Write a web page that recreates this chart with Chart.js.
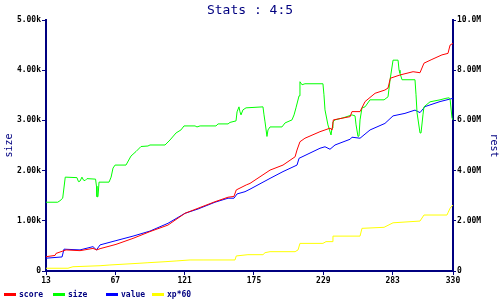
<!DOCTYPE html>
<html>
<head>
<meta charset="utf-8">
<script src="https://cdn.jsdelivr.net/npm/chart.js@4/dist/chart.umd.min.js"></script>
<style>
  html, body { margin: 0; padding: 0; background: #fff; }
  #wrap { width: 500px; height: 300px; }
</style>
</head>
<body>
<div id="wrap"><canvas id="c"></canvas></div>
<script>
// values

const xTicks = [13, 67, 121, 175, 229, 283, 330];

// size (left axis)
const sizeX = [13,22.1,23.9,26,28,37.1,38.3,39.5,41,42.2,43.4,44.9,51.6,52.3,52.7,53.5,54.3,62.1,63.7,65.2,66.8,75.3,79.2,83.1,87,92.4,94,105.7,109.6,114.3,118.1,120.5,129.1,130.6,133,145.4,147,154.8,156.3,161,161.8,163.3,164.1,164.9,166.4,168.8,182,182.8,183.6,185.1,185.9,187.5,196.8,199.2,204.6,206.2,207.7,210.1,210.8,212.4,214.7,228.7,229.5,230.3,232.6,235,235.8,236.5,238.1,244.3,251.3,253.7,254.5,256,256.8,257.6,259.1,261.5,265.4,276.3,279.4,281,283.3,287.2,288,288.7,290.3,300.4,301.2,302,304.3,305.1,306.6,307.4,312.1,319.9,324.5,326.9,327.7,329.2,330];
const sizeY = [1370,1370,1400,1450,1870,1860,1780,1790,1870,1810,1800,1840,1830,1690,1480,1480,1770,1770,1870,2050,2110,2110,2290,2380,2480,2490,2510,2510,2610,2750,2810,2890,2890,2870,2890,2890,2930,2930,2960,2990,3170,3270,3170,3110,3210,3250,3270,3110,2970,2680,2810,2870,2870,2950,3010,3110,3250,3490,3770,3710,3730,3730,3510,3210,2910,2710,2850,2970,3010,3050,3110,3090,2910,2680,2690,3010,3250,3270,3410,3410,3470,3810,4200,4200,4000,3940,3810,3810,3510,3150,2750,2750,3110,3270,3370,3410,3440,3450,3430,3050,3010];

// score (right axis)
const scoreX = [13,20,20.8,28.6,39.5,49.6,52.5,55.1,67.5,80.8,94,108,121.3,131.4,144.6,154.8,159.4,161.2,169,171.9,187.5,197.6,207,208.5,210.8,214.7,226.4,234.2,235.8,236.8,249.9,251.3,257.6,261.5,269.3,277,279.4,281.2,288.7,298.9,304.3,307.4,313.6,321.4,326.1,327.7,330];
const scoreY = [570000,620000,700000,840000,810000,900000,840000,890000,1060000,1300000,1570000,1830000,2300000,2500000,2760000,2940000,2970000,3230000,3430000,3490000,4020000,4220000,4550000,4820000,5150000,5290000,5550000,5690000,5620000,6020000,6150000,6350000,6350000,6750000,7080000,7210000,7290000,7680000,7810000,7940000,7900000,8280000,8430000,8610000,8670000,9000000,9070000];

// value (right axis)
const valueX = [13,25.5,27,39.5,49.6,52.3,55.1,67.5,80.8,94,108,121.3,131.4,144.6,154.8,159.4,161.8,168,171.9,187.5,197.6,208.5,210.1,226.4,230.3,234.2,238.1,249.9,251.3,257.6,265.4,277,283.3,292.6,300.4,304.3,308.2,319.9,330];
const valueY = [510000,560000,870000,840000,970000,840000,1040000,1210000,1390000,1590000,1900000,2300000,2470000,2740000,2900000,2900000,3070000,3160000,3260000,3690000,3960000,4220000,4490000,4890000,4950000,4850000,5020000,5250000,5330000,5290000,5620000,5880000,6180000,6280000,6410000,6310000,6550000,6750000,6880000];

// xp*60 (right axis)
const xpX = [13,30.1,34,55.1,62.8,86.2,92.4,105.7,114.3,125.2,135.3,160.2,161.2,170.3,182,183.6,187.5,207,209.3,210.8,228.7,231.1,235.8,236.5,257.6,259.1,276.3,283.3,304.3,307.4,325.3,326.1,327.7,330];
const xpY = [110000,110000,170000,210000,240000,310000,330000,370000,400000,440000,440000,440000,600000,650000,650000,730000,770000,770000,840000,1100000,1100000,1170000,1170000,1390000,1390000,1700000,1740000,1920000,1990000,2230000,2230000,2320000,2500000,2630000];

const NAVY = '#000080';
const FONT = 'DejaVu Sans Mono';

function pts(xs, ys) {
  return xs.map((x, i) => ({ x: x, y: ys[i] }));
}

function line(label, color, xs, ys, axis) {
  return {
    label: label,
    data: pts(xs, ys),
    borderColor: color,
    backgroundColor: color,
    borderWidth: 1,
    pointRadius: 0,
    tension: 0,
    yAxisID: axis
  };
}

// legend drawn by hand so it sits where the reference has it
const legendPlugin = {
  id: 'bottomLegend',
  afterDraw(chart) {
    const ctx = chart.ctx;
    const slots = [4, 53, 106, 152];
    ctx.save();
    ctx.font = 'bold 8px ' + FONT;
    ctx.textBaseline = 'middle';
    chart.data.datasets.forEach((ds, i) => {
      const x = slots[i];
      ctx.fillStyle = ds.borderColor;
      ctx.fillRect(x, 293, 12, 3);
      ctx.fillStyle = NAVY;
      ctx.fillText(ds.label, x + 15, 295);
    });
    ctx.restore();
  }
};

new Chart(document.getElementById('c'), {
  type: 'line',
  data: {
    datasets: [
      line('score', '#ff0000', scoreX, scoreY, 'y1'),
      line('size', '#00ff00', sizeX, sizeY, 'y'),
      line('value', '#0000ff', valueX, valueY, 'y1'),
      line('xp*60', '#ffff00', xpX, xpY, 'y1')
    ]
  },
  plugins: [legendPlugin],
  options: {
    responsive: true,
    maintainAspectRatio: false,
    animation: false,
    layout: { padding: 0 },
    plugins: {
      legend: { display: false },
      tooltip: { enabled: false },
      title: {
        display: true,
        text: 'Stats : 4:5',
        color: NAVY,
        font: { family: FONT, size: 13, weight: 'normal' },
        padding: { top: 3, bottom: 1.4 }
      }
    },
    scales: {
      x: {
        type: 'linear',
        min: 13,
        max: 330,
        afterBuildTicks: s => { s.ticks = xTicks.map(v => ({ value: v })); },
        afterFit: s => { s.height = 29; },
        grid: { drawOnChartArea: false, color: NAVY, tickLength: 4 },
        border: { color: NAVY, width: 2 },
        ticks: {
          color: '#000',
          font: { family: FONT, size: 8, weight: 'bold' },
          padding: 1,
          maxRotation: 0,
          autoSkip: false
        }
      },
      y: {
        position: 'left',
        min: 0,
        max: 5000,
        afterFit: s => { s.width = 46; },
        grid: { drawOnChartArea: false, color: NAVY, tickLength: 4 },
        border: { color: NAVY, width: 2 },
        ticks: {
          stepSize: 1000,
          color: '#000',
          font: { family: FONT, size: 8, weight: 'bold' },
          padding: 1,
          callback: v => v === 0 ? '0' : (v / 1000).toPrecision(3) + 'k'
        },
        title: {
          display: true,
          text: 'size',
          color: NAVY,
          font: { family: FONT, size: 10 },
          padding: { top: 3, bottom: 0 }
        }
      },
      y1: {
        position: 'right',
        min: 0,
        max: 10000000,
        afterFit: s => { s.width = 47; },
        grid: { drawOnChartArea: false, color: NAVY, tickLength: 3 },
        border: { color: NAVY, width: 2 },
        ticks: {
          stepSize: 2000000,
          color: '#000',
          font: { family: FONT, size: 8, weight: 'bold' },
          padding: 1,
          callback: v => v === 0 ? '0' : (v / 1000000).toPrecision(3) + 'M'
        },
        title: {
          display: true,
          text: 'rest',
          color: NAVY,
          font: { family: FONT, size: 10 },
          padding: 0
        }
      }
    }
  }
});
</script>
</body>
</html>
